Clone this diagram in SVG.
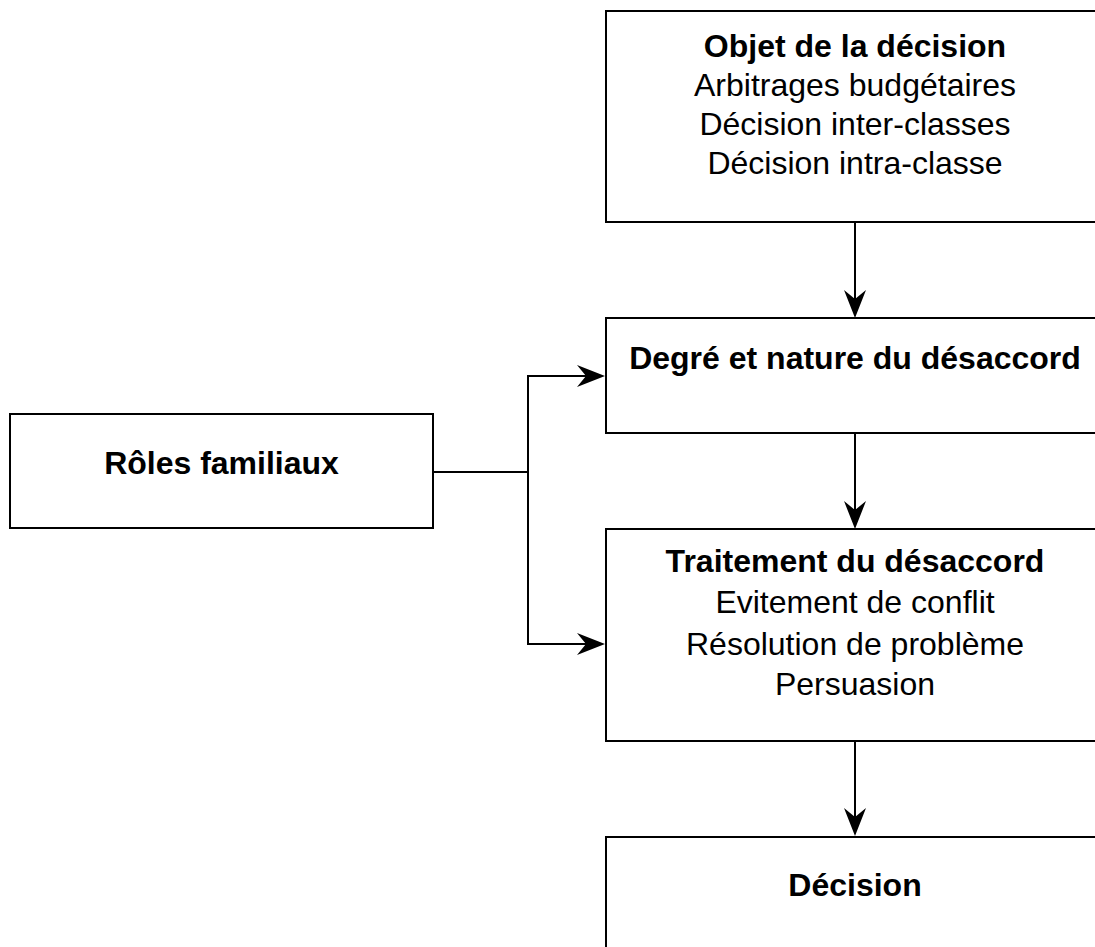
<svg xmlns="http://www.w3.org/2000/svg" width="1095" height="947" viewBox="0 0 1095 947">
<style>
.box{fill:#fff;stroke:#000;stroke-width:2}
.t{font-family:"Liberation Sans",Arial,sans-serif;font-size:32px;fill:#000;text-anchor:middle}
.b{font-weight:bold}
.c{fill:none;stroke:#000;stroke-width:2}
</style>
<defs>
<marker id="ah" markerUnits="userSpaceOnUse" markerWidth="30" markerHeight="24" refX="9" refY="11" orient="auto" overflow="visible">
<path d="M0,0 L28,11 L0,22 L9,11 Z" fill="#000"/>
</marker>
</defs>
<g id="objet">
<rect class="box" x="606" y="11" width="500" height="211"/>
<text class="t b" x="855" y="57">Objet de la décision</text>
<text class="t" x="855" y="96">Arbitrages budgétaires</text>
<text class="t" x="855" y="135">Décision inter-classes</text>
<text class="t" x="855" y="174">Décision intra-classe</text>
</g>
<g id="degre">
<rect class="box" x="606" y="318" width="500" height="115"/>
<text class="t b" x="855" y="369">Degré et nature du désaccord</text>
</g>
<g id="traitement">
<rect class="box" x="606" y="529" width="500" height="212"/>
<text class="t b" x="855" y="572">Traitement du désaccord</text>
<text class="t" x="855" y="613">Evitement de conflit</text>
<text class="t" x="855" y="655">Résolution de problème</text>
<text class="t" x="855" y="695">Persuasion</text>
</g>
<g id="decision">
<rect class="box" x="606" y="837" width="500" height="130"/>
<text class="t b" x="855" y="896">Décision</text>
</g>
<g id="roles">
<rect class="box" x="10" y="414" width="423" height="114"/>
<text class="t b" x="221.5" y="474">Rôles familiaux</text>
</g>
<g id="connectors">
<path class="c" d="M855,222 V299" marker-end="url(#ah)"/>
<path class="c" d="M855,433 V510" marker-end="url(#ah)"/>
<path class="c" d="M855,741 V817" marker-end="url(#ah)"/>
<path class="c" d="M433,472 H528 V376 H586" marker-end="url(#ah)"/>
<path class="c" d="M528,472 V644 H586" marker-end="url(#ah)"/>
</g>
</svg>
